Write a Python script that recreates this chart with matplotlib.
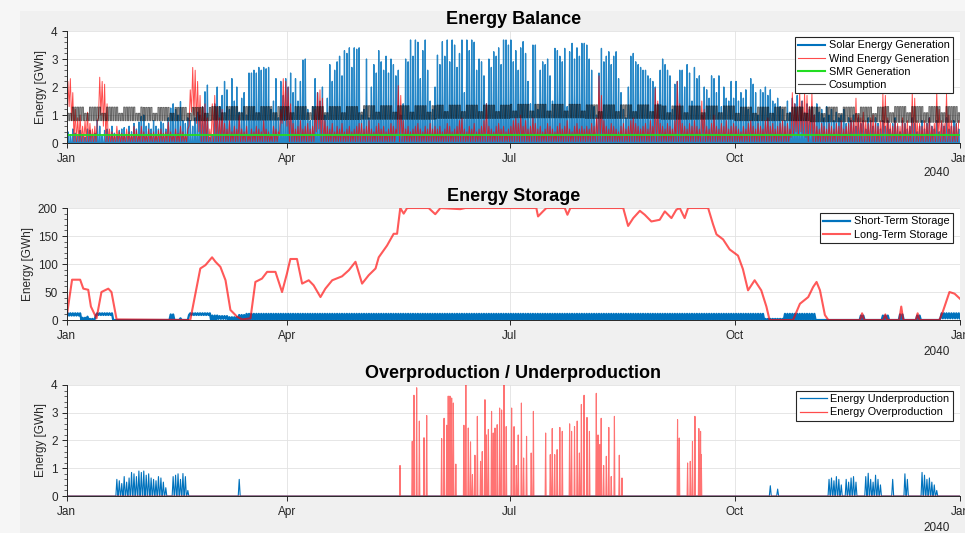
import datetime as dt
import matplotlib
matplotlib.use("Agg")
import matplotlib.pyplot as plt
from matplotlib.lines import Line2D
from matplotlib.patches import Rectangle
from matplotlib.ticker import MultipleLocator

plt.rcParams['font.family'] = ['Liberation Sans', 'DejaVu Sans']

# ---------------- data ----------------
year_start = dt.date(2039, 1, 1)
month_ticks = [0, 90, 181, 273, 365]          # day of year
month_labels = ['Jan', 'Apr', 'Jul', 'Oct', 'Jan']
year_label = '2040'

# daily solar peak [GWh], Jan..Dec
solar_peak = [
    0.4,0.3,0.5,0.35,0.25,0.45,0.3,0.2,0.5,0.45,0.3,0.35,0.8,0.6,0.25,0.45,0.5,0.3,0.6,0.35,0.3,0.45,0.5,0.55,0.3,0.6,0.4,0.7,0.5,0.75,0.95,
    1.0,0.6,0.7,0.5,0.8,0.6,0.5,0.76,0.7,0.5,0.9,1.25,1.4,1.2,1.0,1.48,0.8,0.7,0.9,0.8,0.6,0.9,1.1,1.0,1.3,1.83,2.07,0.2,
    0.3,1.4,2.0,1.3,1.7,2.2,1.9,1.2,2.3,1.5,2.0,1.1,1.6,1.8,1.0,2.5,2.5,2.6,2.5,2.7,2.6,2.7,2.65,2.7,1.2,1.5,2.3,0.9,2.2,1.7,2.3,
    2.0,2.5,1.8,2.3,1.5,2.2,2.96,3.0,1.2,0.8,1.3,2.3,1.8,1.5,2.0,1.0,1.6,2.8,2.2,2.6,2.9,3.1,2.4,3.3,3.2,3.4,2.7,3.4,3.35,3.4,
    1.0,1.2,3.0,0.9,2.0,2.8,2.5,3.3,2.9,2.6,3.1,2.5,3.0,2.8,2.4,2.6,1.0,1.4,3.0,2.9,3.68,3.1,3.68,3.6,2.3,3.3,3.68,2.6,1.5,1.2,2.0,
    3.14,2.8,3.62,3.1,3.68,2.9,3.68,3.5,2.7,3.2,3.68,1.8,3.68,3.3,3.68,3.6,2.6,3.0,2.9,2.4,1.4,3.0,2.7,3.26,3.1,3.4,2.8,3.68,3.68,3.5,
    3.68,2.9,3.3,2.6,3.4,3.62,3.2,2.2,1.4,3.5,3.5,1.2,2.6,2.9,2.8,3.0,2.4,1.5,3.38,3.3,3.1,2.9,3.38,1.3,3.26,3.56,3.0,3.4,3.1,3.56,3.56,
    3.5,3.0,2.6,1.3,1.0,2.5,3.38,2.9,3.1,3.26,2.8,3.1,3.26,2.3,1.8,1.2,0.9,2.0,3.1,3.2,2.9,2.8,2.7,2.6,2.6,2.4,2.3,2.2,2.0,1.4,2.6,
    3.0,2.8,2.6,2.4,1.2,2.1,2.2,2.6,2.6,2.0,2.8,2.5,1.5,2.7,2.3,2.4,1.0,2.0,1.9,1.6,2.4,2.3,1.8,2.4,1.3,2.0,1.6,1.5,2.2,1.6,
    2.2,1.5,1.8,1.6,1.9,1.2,2.3,2.1,1.8,1.0,1.9,1.8,2.0,1.7,1.9,1.5,1.4,1.6,1.3,1.2,0.8,1.5,1.1,1.6,1.4,1.7,1.3,1.5,1.1,1.4,1.2,
    1.3,1.0,1.4,1.1,1.2,0.9,1.3,1.0,1.2,0.8,1.1,0.9,1.0,1.2,0.7,0.9,0.8,1.0,0.6,0.9,0.7,0.8,0.5,0.9,0.8,0.6,0.9,0.7,0.5,0.8,
    0.6,0.8,0.5,0.7,0.9,0.6,0.4,0.8,0.7,0.5,0.6,0.9,0.7,0.4,0.6,0.8,0.5,0.7,0.9,0.6,0.5,0.8,0.4,0.7,0.6,0.9,0.5,0.6,0.8,0.7,0.5,
]

# daily wind maximum [GWh], Jan..Dec
wind_peak = [
    2.2,2.3,1.8,1.2,0.9,1.0,0.6,0.8,1.1,0.7,0.5,0.6,0.8,2.35,2.2,2.1,1.4,0.5,0.4,0.3,0.6,0.4,0.35,0.3,0.5,0.4,0.3,0.6,0.45,0.3,0.6,
    0.4,0.3,0.5,0.35,0.4,0.3,0.45,0.5,0.35,0.4,0.75,0.4,0.3,0.5,0.35,0.6,0.4,0.3,0.5,1.9,2.7,2.6,2.2,1.7,1.3,1.4,0.9,0.5,
    1.4,1.7,1.3,0.9,1.2,0.7,0.5,0.8,0.4,0.6,0.5,1.0,0.5,0.4,0.6,0.3,0.5,0.4,0.6,0.5,0.4,0.8,0.5,0.4,0.3,0.6,0.5,0.4,1.2,2.3,2.2,
    2.0,1.4,0.7,0.5,0.6,0.8,0.5,0.6,0.7,0.5,0.6,1.2,1.8,1.9,1.6,0.8,0.6,0.5,0.7,0.4,0.6,0.5,0.7,0.4,0.5,0.6,0.4,0.5,0.6,0.7,
    0.7,0.5,0.6,0.8,0.5,0.4,0.6,0.7,0.5,0.6,0.4,0.5,0.7,0.6,0.5,2.05,1.7,0.8,0.5,0.6,0.4,0.5,0.6,0.7,0.5,0.4,0.6,0.5,0.7,0.5,0.6,
    0.5,0.6,0.4,0.5,0.7,0.6,0.4,0.5,0.6,0.8,0.9,0.5,0.4,0.6,0.5,0.7,0.4,0.5,0.6,0.8,1.4,0.6,0.5,0.4,0.6,0.7,0.5,0.6,0.4,0.5,
    0.6,0.8,0.9,0.7,1.0,0.6,0.8,0.5,0.6,0.9,0.7,0.5,0.6,0.4,0.5,0.7,0.6,0.5,0.4,0.6,0.7,0.5,0.6,0.8,0.5,0.4,0.6,0.7,0.5,0.6,0.5,
    0.6,0.5,0.7,0.6,0.9,2.4,1.7,0.8,0.6,0.5,0.7,0.6,0.5,0.4,0.6,0.7,0.5,0.6,0.8,0.9,0.7,0.6,0.5,0.6,0.7,0.5,0.8,0.6,1.95,1.5,0.7,
    0.6,0.5,0.7,0.6,0.5,0.8,2.2,1.4,0.7,0.6,0.5,0.7,0.6,0.8,0.6,0.5,1.5,1.2,0.6,0.5,0.7,1.0,0.6,0.5,0.7,0.6,0.8,0.5,0.6,0.7,
    0.6,0.5,0.4,0.6,0.5,0.7,0.8,0.6,0.5,0.7,0.6,0.5,0.8,0.9,0.6,0.7,0.5,0.6,0.7,0.8,0.6,0.7,0.5,1.8,1.4,1.3,1.85,1.5,1.8,1.7,1.3,
    1.8,1.0,0.6,0.5,0.7,0.6,0.5,0.7,0.6,0.5,0.7,0.6,0.8,0.5,0.6,0.7,0.9,0.8,1.6,1.0,0.9,1.1,0.8,0.7,0.9,1.0,0.7,0.6,0.8,1.75,
    1.7,0.9,0.7,0.6,0.8,0.7,0.6,0.9,0.7,0.8,0.6,1.8,1.6,0.8,0.7,0.6,0.8,0.7,0.9,0.6,0.7,1.85,1.2,0.8,0.7,1.75,1.0,0.8,0.6,0.7,0.8,
]
wind_base_low = 0.05
wind_low_days = [0,1,2,13,14,15,50,51,52,53,54,87,88,89,90,102,103,135,296,297,298,299,300,301,302,304]
wind_low_vals = [1.4,1.3,0.8,0.9,1.0,0.6,0.6,1.1,1.0,0.7,0.4,0.3,0.7,0.8,0.6,0.4,0.5,0.3,0.2,0.3,0.4,0.3,0.4,0.3,0.2,0.3]

smr_level = 0.3

# consumption per month [GWh]
cons_weekday_peak = [1.28,1.27,1.30,1.30,1.33,1.35,1.38,1.36,1.32,1.28,1.28,1.30]
cons_weekend_peak = [1.06,1.06,1.08,1.08,1.10,1.12,1.14,1.12,1.08,1.06,1.05,1.08]
cons_night = [0.80,0.80,0.82,0.84,0.85,0.88,0.90,0.88,0.85,0.80,0.76,0.74]

# long-term storage [GWh] at read-off days
lts_day = [0,2.2,5.5,6.8,8.8,9.9,12.2,14.2,17,18.3,20.4,50.5,54.6,56.7,59.4,60.8,62.8,64.9,66.9,69.6,71.7,75.1,77.1,79.8,81.9,85.3,88,90,91.4,94.1,
           96.2,98.9,100.9,103.7,105.7,108.5,112.5,115.3,118,120.7,123.4,126.2,127.5,130.9,133.6,135,136.3,137.7,139.1,147.9,150.6,152.7,160.8,162.9,
           191.9,192.6,194.6,196,203.5,204.6,205.8,227.4,229.4,231.5,234.2,236.2,238.9,242.3,244.4,247.1,249.1,250.5,252.5,253.9,262.1,264.1,265.5,
           268.2,270.9,274.3,276.3,278.4,281.1,283.8,285.9,287.2,296.8,299.6,303,305,306.4,307.8,309.8,311.2,324.2,325,325.8,333.7,334.5,335.3,
           340.2,341,341.8,347,347.7,348.4,356.6,358,360.7,362.8,365]
lts_val = [6,72,72,56,54,24,3,50,56,50,1,0,92,98,112,104,95,71,18,6,1,3,68,74,86,86,50,83,109,109,
           65,71,62,41,56,71,78,89,104,65,80,92,112,133,154,154,200,190,200,200,189,200,198,200,
           200,185,194,200,200,188,200,200,168,182,195,188,176,179,194,182,197,200,182,200,200,171,153,
           144,126,115,91,53,71,53,24,0,0,29,41,59,68,53,9,0,0,12,0,0,10,0,
           0,24,0,0,12,0,0,15,50,47,38]

# short-term storage: runs of days with daily low / high [GWh]
sts_start = [0,6,8,9,12,19,42,44,46,47,50,59,62,66,70,73,285,293,306,324,326,333,336,340,342,347,349,357]
sts_end   = [6,8,9,12,19,42,44,46,47,50,59,62,66,70,73,285,293,306,324,326,333,336,340,342,347,349,357,365]
sts_low   = [8,0,0,0,9,0,0,0,0,0,9,0,2,0,0,0,0,0,0,0,0,0,0,0,0,0,0,3]
sts_high  = [12,4,6,2,12,0,10,0,3,0,12,8,7,5,9,11,2,11,0,8,0,8,0,10,0,8,0,12]

# underproduction: day of year and daily maximum [GWh]
under_day = [20,21,22,23,24,25,26,27,28,29,30,31,32,33,34,35,36,37,38,39,40,
             43,44,45,46,47,48,49,70,287,290,311,312,313,314,315,316,318,319,320,321,322,
             326,327,328,329,330,331,332,337,342,343,349,350,351,352,353,354,355]
under_val = [0.6,0.55,0.45,0.7,0.5,0.65,0.85,0.8,0.7,0.9,0.85,0.9,0.75,0.8,0.65,0.6,0.55,0.7,0.65,0.5,0.3,
             0.7,0.75,0.8,0.6,0.81,0.7,0.2,0.6,0.37,0.25,0.6,0.65,0.55,0.7,0.6,0.4,0.6,0.5,0.65,0.7,0.5,
             0.7,0.82,0.6,0.5,0.75,0.6,0.4,0.6,0.8,0.6,0.85,0.75,0.6,0.65,0.5,0.4,0.2]

# overproduction peaks: day of year and value [GWh]
over_day = [136.2,141.2,141.9,143.0,144.1,146.0,147.1,153.2,154.2,155.3,155.9,156.6,157.3,158.0,159.0,162.3,163.1,164.1,165.0,165.8,
            166.8,167.8,169.1,169.8,170.9,171.5,172.3,173.6,174.3,175.0,175.9,176.9,177.7,178.7,179.6,181.8,182.8,183.7,184.5,185.8,
            186.7,187.9,189.8,190.7,195.7,197.6,198.4,199.4,200.4,201.5,202.5,205.5,206.3,207.5,208.6,209.5,210.3,211.4,212.6,213.6,
            216.4,217.1,217.8,218.4,219.4,220.5,221.5,222.5,223.8,225.8,226.9,249.6,250.3,253.7,254.8,255.7,256.7,258.3,259.0,259.3]
over_val = [1.1,1.97,3.63,3.9,2.7,2.1,2.9,2.07,2.8,2.55,3.6,3.6,3.53,3.35,1.15,2.55,4.0,2.45,1.95,0.77,
            1.47,2.87,1.25,1.6,3.47,2.2,2.4,3.05,2.27,2.45,2.57,3.17,3.1,4.0,2.5,3.17,2.5,1.1,2.2,3.35,
            1.37,2.15,1.55,3.05,2.27,1.49,2.43,1.49,1.67,2.47,2.33,2.6,2.33,2.5,2.7,1.55,3.3,3.63,2.83,2.33,
            3.7,2.2,1.85,2.8,1.1,1.43,2.47,0.7,2.87,1.47,0.65,2.75,2.09,1.19,1.25,1.97,2.87,2.43,2.33,1.49]

assert len(solar_peak) == 365 and len(wind_peak) == 365
assert len(lts_day) == len(lts_val)
assert len(under_day) == len(under_val) and len(over_day) == len(over_val)

# ---------------- colours ----------------
C_BLUE = '#0072BD'
C_RED = '#FF0000'
C_GREEN = '#22DD22'
C_AX = '#262626'

# ---------------- build drawable paths ----------------
n_days = len(solar_peak)

sx, sy = [], []
for d, p in enumerate(solar_peak):
    sx += [d + 0.25, d + 0.5, d + 0.75]
    sy += [0, p, 0]

wlow = {d: v for d, v in zip(wind_low_days, wind_low_vals)}
wx, wy = [], []
for d, p in enumerate(wind_peak):
    wx += [d, d + 0.5]
    wy += [wlow.get(d, wind_base_low), p]

cx, cy = [], []
for d in range(n_days):
    date = year_start + dt.timedelta(days=d)
    m = date.month - 1
    pk = cons_weekend_peak[m] if date.weekday() >= 5 else cons_weekday_peak[m]
    lo = cons_night[m]
    cx += [d, d + 0.28, d + 0.33, d + 0.82, d + 0.88]
    cy += [lo, lo, pk, pk, lo]

tx, ty = [], []
for s, e, lo, hi in zip(sts_start, sts_end, sts_low, sts_high):
    for d in range(s, e):
        tx += [d, d + 0.5]
        ty += [lo, hi]
tx.append(n_days)
ty.append(sts_low[-1])

umap = {d: v for d, v in zip(under_day, under_val)}
ux, uy = [], []
for d in range(n_days):
    if d in umap:
        ux += [d + 0.1, d + 0.5, d + 0.9]
        uy += [0, umap[d], 0]
    else:
        ux.append(d)
        uy.append(0)
ux.append(n_days)
uy.append(0)

ox, oy = [0], [0]
for d, v in zip(over_day, over_val):
    ox += [d - 0.2, d, d + 0.2]
    oy += [0, v, 0]
ox.append(n_days)
oy.append(0)

# ---------------- figure ----------------
fig = plt.figure(figsize=(9.65, 5.33), dpi=100, facecolor='#f6f6f6')
fig.patches.append(Rectangle((20 / 965, 0), 1, (533 - 11) / 533, transform=fig.transFigure,
                             facecolor='#f0f0f0', edgecolor='none', zorder=-10))

ax1 = fig.add_axes([0.0691, 0.7317, 0.9257, 0.2101])
ax2 = fig.add_axes([0.0691, 0.3996, 0.9257, 0.2101])
ax3 = fig.add_axes([0.0691, 0.0694, 0.9257, 0.2083])


def style(ax, ylim, major, minor, year_y):
    ax.set_facecolor('white')
    ax.set_xlim(0, n_days)
    ax.set_ylim(*ylim)
    ax.set_xticks(month_ticks)
    ax.set_xticklabels(month_labels)
    ax.yaxis.set_major_locator(MultipleLocator(major))
    ax.yaxis.set_minor_locator(MultipleLocator(minor))
    ax.grid(True, which='major', color='#e2e2e2', linewidth=0.6)
    ax.set_axisbelow(True)
    for sp in ['top', 'right']:
        ax.spines[sp].set_visible(False)
    for sp in ['left', 'bottom']:
        ax.spines[sp].set_color(C_AX)
        ax.spines[sp].set_linewidth(0.7)
        ax.spines[sp].set_zorder(5)
    ax.tick_params(axis='both', which='major', direction='out', length=3.5, width=0.7,
                   colors=C_AX, labelsize=8.5, pad=3)
    ax.tick_params(axis='x', pad=4)
    ax.tick_params(axis='y', which='minor', direction='out', length=2, width=0.5, colors=C_AX)
    ax.tick_params(axis='x', which='minor', bottom=False)
    ax.set_ylabel('Energy [GWh]', fontsize=8.5, color=C_AX, labelpad=3)
    ax.text(0.974, year_y, year_label, transform=ax.transAxes, ha='center', va='center',
            fontsize=8.5, color=C_AX)


style(ax1, (0, 4), 1, 0.2, -0.27)
style(ax2, (0, 200), 50, 10, -0.285)
style(ax3, (0, 4), 1, 0.2, -0.29)

# --- Energy Balance
ax1.plot(sx, sy, color=C_BLUE, lw=0.95, alpha=0.85)
ax1.plot(wx, wy, color=C_RED, lw=0.7, alpha=0.7)
ax1.axhline(smr_level, color=C_GREEN, lw=1.3)
ax1.plot(cx, cy, color='black', lw=0.75, alpha=0.6)
ax1.set_title('Energy Balance', fontsize=13, fontweight='bold', pad=5)
h1 = [Line2D([], [], color=C_BLUE, lw=1.5),
      Line2D([], [], color=C_RED, lw=0.8, alpha=0.7),
      Line2D([], [], color=C_GREEN, lw=1.5),
      Line2D([], [], color='black', lw=0.8, alpha=0.7)]
leg_kw = dict(loc='upper right', borderaxespad=0, fancybox=False, framealpha=1,
              edgecolor=C_AX, fontsize=7.8, handlelength=2.5, handletextpad=0.35,
              labelspacing=0.3, borderpad=0.3)
lg = ax1.legend(h1, ['Solar Energy Generation', 'Wind Energy Generation', 'SMR Generation', 'Cosumption'],
                bbox_to_anchor=(0.992, 0.946), **leg_kw)
lg.get_frame().set_linewidth(0.8)

# --- Energy Storage
ax2.plot(tx, ty, color=C_BLUE, lw=1.6)
ax2.plot(lts_day, lts_val, color=C_RED, lw=1.5, alpha=0.65)
ax2.set_title('Energy Storage', fontsize=13, fontweight='bold', pad=5)
h2 = [Line2D([], [], color=C_BLUE, lw=1.6), Line2D([], [], color=C_RED, lw=1.5, alpha=0.65)]
lg = ax2.legend(h2, ['Short-Term Storage', 'Long-Term Storage'], bbox_to_anchor=(0.992, 0.955), **leg_kw)
lg.get_frame().set_linewidth(0.8)

# --- Overproduction / Underproduction
ax3.plot(ux, uy, color=C_BLUE, lw=0.8)
ax3.plot(ox, oy, color=C_RED, lw=0.8, alpha=0.55)
ax3.set_title('Overproduction / Underproduction', fontsize=13, fontweight='bold', pad=5)
h3 = [Line2D([], [], color=C_BLUE, lw=0.9), Line2D([], [], color=C_RED, lw=0.9, alpha=0.7)]
lg = ax3.legend(h3, ['Energy Underproduction', 'Energy Overproduction'], bbox_to_anchor=(0.992, 0.946), **leg_kw)
lg.get_frame().set_linewidth(0.8)

fig.savefig('out.png', dpi=100, facecolor=fig.get_facecolor())
